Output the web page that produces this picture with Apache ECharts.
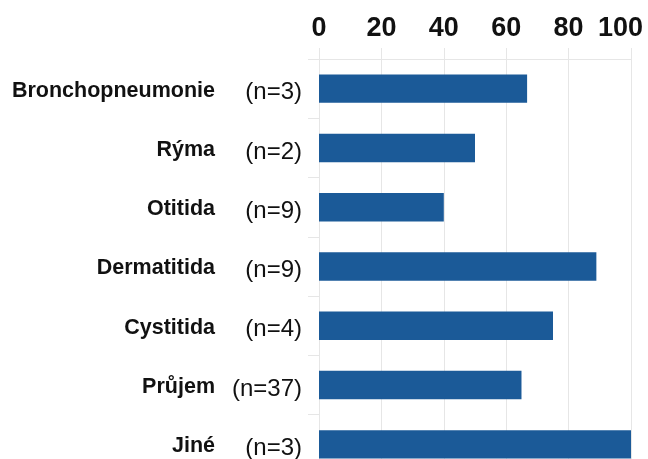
<!DOCTYPE html>
<html>
<head>
<meta charset="utf-8">
<script src="https://cdn.jsdelivr.net/npm/echarts@6/dist/echarts.min.js"></script>
<style>
html,body{margin:0;padding:0;background:#fff;overflow:hidden;}
#c{width:648px;height:475px;}
</style>
</head>
<body>
<div id="c"></div>
<script>
const categories = ['Bronchopneumonie', 'Rýma', 'Otitida', 'Dermatitida', 'Cystitida', 'Průjem', 'Jiné'];
const counts = [3, 2, 9, 9, 4, 37, 3];
const values = [66.7, 50, 40, 88.9, 75, 64.9, 100];
const tickLabels = [0, 20, 40, 60, 80, 100];

const chart = echarts.init(document.getElementById('c'), null, {renderer: 'canvas'});
const grey = '#e6e6e6';
chart.setOption({
  backgroundColor: '#ffffff',
  animation: false,
  grid: {left: 319, width: 312, top: 59, height: 415, containLabel: false},
  xAxis: {
    type: 'value', position: 'top', min: tickLabels[0], max: tickLabels[tickLabels.length - 1], interval: 20,
    axisLine: {show: true, lineStyle: {color: grey, width: 1}},
    axisTick: {show: true, length: 11, lineStyle: {color: grey}},
    splitLine: {show: true, lineStyle: {color: grey, width: 1}},
    axisLabel: {
      margin: 17, color: '#111', fontFamily: 'Liberation Sans', fontWeight: 'bold', fontSize: 27,
      formatter: function (v) { return v === 100 ? '{m|' + v + '}' : '{n|' + v + '}'; },
      rich: {
        n: {fontFamily: 'Liberation Sans', fontWeight: 'bold', fontSize: 27, color: '#111'},
        m: {fontFamily: 'Liberation Sans', fontWeight: 'bold', fontSize: 27, color: '#111', padding: [0, 21, 0, 0]}
      }
    }
  },
  yAxis: {
    type: 'category', inverse: true, data: categories,
    axisLine: {show: true, lineStyle: {color: grey, width: 1}},
    axisTick: {show: true, length: 11, lineStyle: {color: grey}},
    splitLine: {show: false},
    axisLabel: {
      margin: 17,
      formatter: function (v, i) { return '{a|' + v + '}{b|(n=' + counts[i] + ')}'; },
      rich: {
        a: {fontFamily: 'Liberation Sans', fontWeight: 'bold', fontSize: 21.5, color: '#111', padding: [4, 0, 0, 0]},
        b: {fontFamily: 'Liberation Sans', fontSize: 24, color: '#111', width: 87, align: 'right', padding: [8, 0, 0, 0]}
      }
    }
  },
  series: [{
    type: 'bar', data: values, barCategoryGap: '52%',
    itemStyle: {color: '#1b5a98'}
  }]
});
</script>
</body>
</html>
